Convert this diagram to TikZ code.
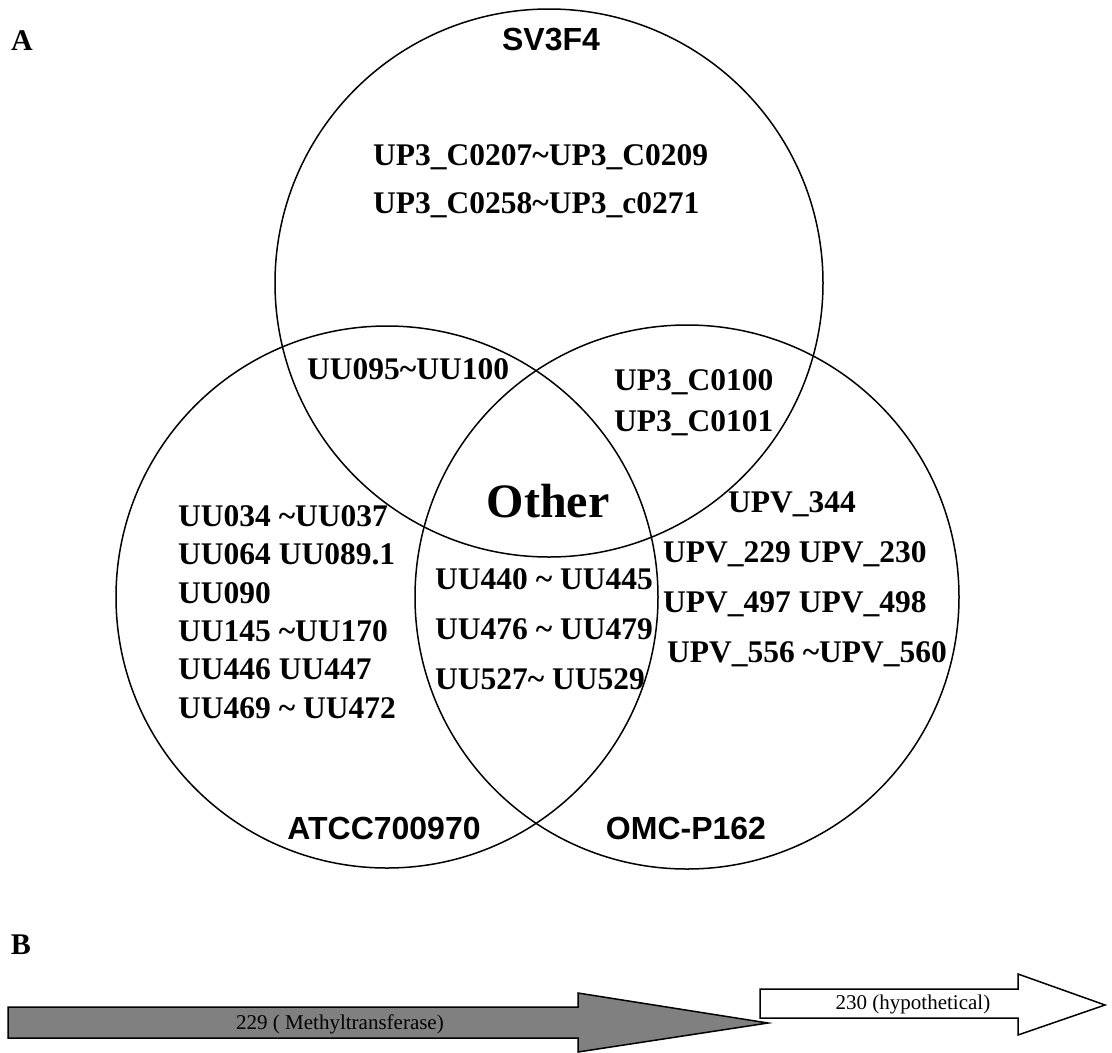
\documentclass[tikz,border=0pt]{standalone}
\usepackage{fontspec}
\setmainfont{Liberation Serif}
\setsansfont{Liberation Sans}
\usetikzlibrary{positioning}
\colorlet{gene fill color}{black!50}
\tikzset{
    x={1pt},
    y={-1pt},
    set circle/.style={
        draw=black,
        line width={1.5pt},
    },
    panel label/.style={
        font={\fontsize{30}{36}\selectfont\bfseries},
        inner sep=0pt,
    },
    set label/.style={
        font={\sffamily\fontsize{32}{36}\selectfont\bfseries},
        inner sep=0pt,
    },
    gene list/.style={
        font={\fontsize{31.5}{#1}\selectfont\bfseries},
        align=left,
        anchor=west,
        inner sep=0pt,
    },
    gene list/.default={38},
    core label/.style={
        font={\fontsize{48}{56}\selectfont\bfseries},
        inner sep=0pt,
    },
    gene arrow/.style={
        draw=black, fill={#1},
        line width={1.5pt},
        line join=miter,
    },
    gene arrow/.default={white},
    gene name/.style={
        font={\fontsize{21}{24}\selectfont},
        inner sep=0pt,
    },
}

\begin{document}
\begin{tikzpicture}
\useasboundingbox (0,0) rectangle (1112,1053);
% panel A
\node[panel label] (panelA) at (22,41) {A};
\draw[set circle] (549,283) circle[radius=274pt];
\draw[set circle] (387,597) circle[radius=271pt];
\draw[set circle] (687,597) circle[radius=272pt];
\node[set label] (sv3f4) at (551,40) {SV3F4};
\node[set label] (atcc) at (384,828) {ATCC700970};
\node[set label] (omc) at (686,828) {OMC-P162};
% genes per region
\node[gene list={48}] (onlySV) at (373,181) {UP3\_C0207\textasciitilde UP3\_C0209\\UP3\_C0258\textasciitilde UP3\_c0271};
\node[gene list] (svAtcc) at (307,369) {UU095\textasciitilde UU100};
\node[gene list={41}] (svOmc) at (614,403) {UP3\_C0100\\UP3\_C0101};
\node[core label] (other) at (548,501) {Other};
\node[gene list={38.4}] (onlyAtcc) at (178,612) {UU034 \textasciitilde UU037\\UU064 UU089.1\\UU090\\UU145 \textasciitilde UU170\\UU446 UU447\\UU469 \textasciitilde{} UU472};
\node[gene list={50}] (atccOmc) at (435,629) {UU440 \textasciitilde{} UU445\\UU476 \textasciitilde{} UU479\\UU527\textasciitilde{} UU529};
\node[gene list={50}] (onlyOmc) at (663,579) {\hspace*{65pt}UPV\_344\\UPV\_229 UPV\_230\\UPV\_497 UPV\_498\\\hspace*{4pt}UPV\_556 \textasciitilde UPV\_560};
% panel B
\node[panel label] (panelB) at (21,945) {B};
\draw[gene arrow={gene fill color}] (8,1007) -- (578,1007) -- (578,993) -- (768,1023) -- (578,1052) -- (578,1038) -- (8,1038) -- cycle;
\draw[gene arrow] (760,989) -- (1018,989) -- (1018,974) -- (1105,1005) -- (1018,1035) -- (1018,1018) -- (760,1018) -- cycle;
\node[gene name] (gene229) at (340,1024) {229 ( Methyltransferase)};
\node[gene name] (gene230) at (913,1004) {230 (hypothetical)};
\end{tikzpicture}
\end{document}
